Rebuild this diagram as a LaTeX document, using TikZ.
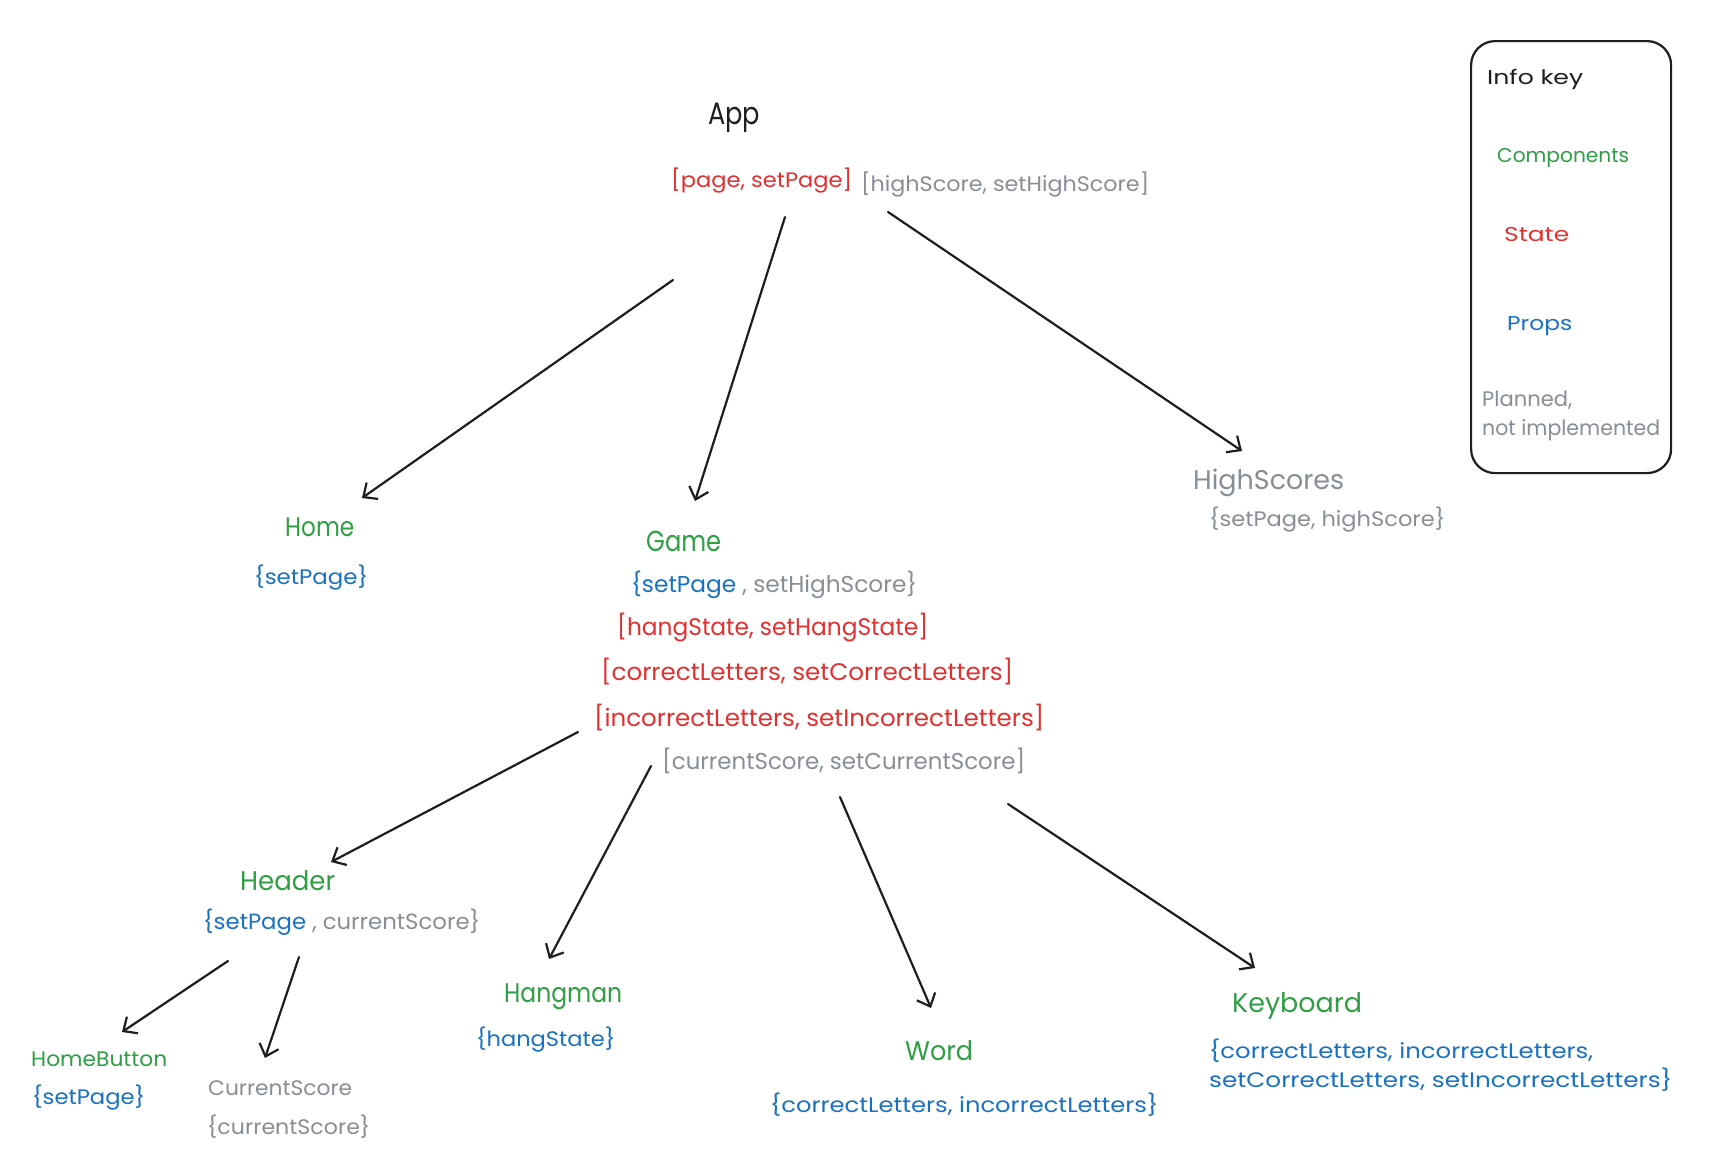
\documentclass[tikz,border=0pt]{standalone}
\usepackage{fontspec}
\setmainfont{Poppins}
\usetikzlibrary{arrows.meta,calc}

\definecolor{compgreen}{HTML}{2F9E44}
\definecolor{statered}{HTML}{E03131}
\definecolor{propblue}{HTML}{1971C2}
\definecolor{plangray}{HTML}{868E96}
\definecolor{inkblack}{HTML}{1E1E1E}

% set a text to an exact width, keeping its height
\newcommand\fitw[2]{\resizebox{#1pt}{\height}{#2}}

\tikzset{
  txt/.style={anchor=west, inner sep=0pt, yshift=-3pt, font=\fontsize{21}{29}\selectfont},
  comp/.style={txt, text=compgreen, font=\fontsize{27}{32}\selectfont},
  state/.style={txt, text=statered},
  tallstate/.style={txt, text=statered, font=\fontsize{24}{29}\selectfont},
  props/.style={txt, text=propblue},
  planned/.style={txt, text=plangray},
  link/.style={draw=inkblack, line width=2.2pt, line cap=round,
    -{Straight Barb[length=11pt,width=20pt,line width=2.2pt]}},
  keybox/.style={draw=inkblack, line width=2.2pt, rounded corners=24pt,
    minimum width=200pt, minimum height=432pt, anchor=north west, inner sep=0pt}
}

\begin{document}
\begin{tikzpicture}[x=1pt, y=-1pt]
\useasboundingbox[fill=white] (0,0) rectangle (1711,1168);

% ---- legend ----
\node[keybox] (infokey) at (1470,40) {};
\node[txt, text=inkblack, font=\fontsize{20}{24}\selectfont] (keytitle) at (1487,76) {\fitw{96}{Info key}};
\node[txt, text=compgreen, font=\fontsize{20}{24}\selectfont] (keycomp) at (1497,155) {\fitw{132}{Components}};
\node[txt, text=statered, font=\fontsize{20}{24}\selectfont] (keystate) at (1504,232) {\fitw{65}{State}};
\node[txt, text=propblue, font=\fontsize{20}{24}\selectfont] (keyprops) at (1507,323) {\fitw{65}{Props}};
\node[planned, align=left, font=\fontsize{21}{29}\selectfont] (keyplan) at (1482,412.5)
  {\fitw{90}{Planned,}\\\fitw{178}{not implemented}};

% ---- App ----
\node[txt, text=inkblack, font=\fontsize{31}{36}\selectfont] (app) at (708,115) {\fitw{52}{App}};
\node[state] (pagestate) at (671,178) {\fitw{181}{[page, setPage]}};
\node[planned] (highstate) at (861,182) {\fitw{288}{[highScore, setHighScore]}};

% ---- Home ----
\node[comp] (home) at (285,524) {\fitw{69}{Home}};
\node[props] (homeprops) at (254,575) {\fitw{114}{\{setPage\}}};

% ---- HighScores ----
\node[planned, font=\fontsize{27}{32}\selectfont] (highscores) at (1193,480) {\fitw{151}{HighScores}};
\node[planned] (hsprops) at (1209,517) {\fitw{236}{\{setPage, highScore\}}};

% ---- Game ----
\node[comp, font=\fontsize{29}{34}\selectfont] (game) at (646,538) {\fitw{75}{Game}};
\node[txt, font=\fontsize{23}{29}\selectfont] (gameprops) at (631,582)
  {\fitw{286}{\textcolor{propblue}{\{setPage} \textcolor{plangray}{, setHighScore\}}}};
\node[tallstate] (hang) at (617,625) {\fitw{311}{[hangState, setHangState]}};
\node[tallstate] (correct) at (601,669) {\fitw{412}{[correctLetters, setCorrectLetters]}};
\node[tallstate] (incorrect) at (594,715) {\fitw{450}{[incorrectLetters, setIncorrectLetters]}};
\node[planned, font=\fontsize{23}{29}\selectfont] (curstate) at (662,758) {\fitw{363}{[currentScore, setCurrentScore]}};

% ---- Header ----
\node[comp] (header) at (240,878) {\fitw{95}{Header}};
\node[txt, font=\fontsize{22}{29}\selectfont] (headerprops) at (203,919)
  {\fitw{277}{\textcolor{propblue}{\{setPage} \textcolor{plangray}{, currentScore\}}}};

% ---- Header children ----
\node[comp, font=\fontsize{21}{26}\selectfont] (homebutton) at (31,1056) {\fitw{136}{HomeButton}};
\node[props] (hbprops) at (32,1095) {\fitw{113}{\{setPage\}}};
\node[planned] (curscore) at (208,1085) {\fitw{144}{CurrentScore}};
\node[planned] (csprops) at (207,1124) {\fitw{163}{\{currentScore\}}};

% ---- Game children ----
\node[comp] (hangman) at (504,994) {\fitw{118}{Hangman}};
\node[props] (hangprops) at (476,1037) {\fitw{139}{\{hangState\}}};
\node[comp] (word) at (905,1048) {\fitw{68}{Word}};
\node[props] (wordprops) at (770,1102) {\fitw{388}{\{correctLetters, incorrectLetters\}}};
\node[comp] (keyboard) at (1232,1003) {\fitw{130}{Keyboard}};
\node[props, align=left] (kbprops) at (1209,1062.5)
  {\fitw{384}{\{correctLetters, incorrectLetters,}\\\fitw{463}{setCorrectLetters, setIncorrectLetters\}}};

% ---- connectors (offsets measured from the text anchors) ----
\draw[link] ($(pagestate.west)+(2,99)$) -- ($(home.west)+(77,-29)$);
\draw[link] ($(pagestate.west)+(114,36)$) -- ($(game.west)+(49,-40)$);
\draw[link] ($(highstate.west)+(27,27)$) -- ($(highscores.west)+(49,-32)$);

\draw[link] ($(incorrect.west)+(-16,14)$) -- ($(header.west)+(91,-19)$);
\draw[link] ($(curstate.west)+(-11,5)$) -- ($(hangman.west)+(45,-38)$);
\draw[link] ($(curstate.west)+(178,36)$) -- ($(word.west)+(26,-43)$);
\draw[link] ($(curstate.west)+(346,43)$) -- ($(keyboard.west)+(23,-38)$);

\draw[link] ($(headerprops.west)+(25,39)$) -- ($(homebutton.west)+(91,-27)$);
\draw[link] ($(headerprops.west)+(96,35)$) -- ($(curscore.west)+(57,-30)$);
\end{tikzpicture}
\end{document}
